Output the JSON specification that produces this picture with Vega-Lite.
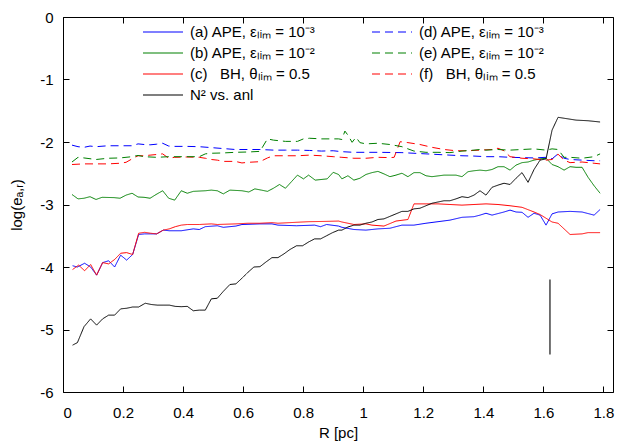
{
 "$schema": "https://vega.github.io/schema/vega-lite/v6.json",
 "width": 550, "height": 375,
 "autosize": "none",
 "padding": {"left": 63, "top": 17, "right": 4, "bottom": 51},
 "config": {
  "font": "Liberation Sans",
  "view": {"stroke": "#000", "strokeWidth": 1},
  "axis": {"labelFont": "Liberation Sans", "titleFont": "Liberation Sans", "labelFontSize": 15, "titleFontSize": 15, "titleFontWeight": "normal", "labelColor": "#000", "titleColor": "#000", "grid": false},
  "legend": {"labelFont": "Liberation Sans", "labelFontSize": 15, "labelColor": "#000"}
 },
 "resolve": {"axis": {"x": "independent", "y": "independent"}},
 "layer": [
  {
   "data": {"values": [
    {"s":"a","R":0.032,"v":-3.98},{"s":"a","R":0.048,"v":-4.0},{"s":"a","R":0.072,"v":-3.94},{"s":"a","R":0.092,"v":-4.0},{"s":"a","R":0.112,"v":-4.13},{"s":"a","R":0.132,"v":-3.93},{"s":"a","R":0.152,"v":-3.9},{"s":"a","R":0.172,"v":-4.0},{"s":"a","R":0.192,"v":-3.81},{"s":"a","R":0.212,"v":-3.89},{"s":"a","R":0.232,"v":-3.8},{"s":"a","R":0.252,"v":-3.48},{"s":"a","R":0.272,"v":-3.47},{"s":"a","R":0.292,"v":-3.47},{"s":"a","R":0.312,"v":-3.47},{"s":"a","R":0.334,"v":-3.41},{"s":"a","R":0.354,"v":-3.42},{"s":"a","R":0.394,"v":-3.42},{"s":"a","R":0.434,"v":-3.39},{"s":"a","R":0.454,"v":-3.4},{"s":"a","R":0.474,"v":-3.355},{"s":"a","R":0.514,"v":-3.34},{"s":"a","R":0.534,"v":-3.365},{"s":"a","R":0.576,"v":-3.345},{"s":"a","R":0.596,"v":-3.32},{"s":"a","R":0.656,"v":-3.31},{"s":"a","R":0.696,"v":-3.31},{"s":"a","R":0.716,"v":-3.33},{"s":"a","R":0.778,"v":-3.34},{"s":"a","R":0.838,"v":-3.33},{"s":"a","R":0.858,"v":-3.355},{"s":"a","R":0.878,"v":-3.32},{"s":"a","R":0.918,"v":-3.345},{"s":"a","R":0.929,"v":-3.365},{"s":"a","R":0.969,"v":-3.4},{"s":"a","R":1.009,"v":-3.41},{"s":"a","R":1.049,"v":-3.39},{"s":"a","R":1.089,"v":-3.38},{"s":"a","R":1.129,"v":-3.33},{"s":"a","R":1.169,"v":-3.33},{"s":"a","R":1.209,"v":-3.3},{"s":"a","R":1.249,"v":-3.275},{"s":"a","R":1.289,"v":-3.25},{"s":"a","R":1.329,"v":-3.205},{"s":"a","R":1.369,"v":-3.195},{"s":"a","R":1.389,"v":-3.17},{"s":"a","R":1.409,"v":-3.14},{"s":"a","R":1.429,"v":-3.17},{"s":"a","R":1.469,"v":-3.12},{"s":"a","R":1.489,"v":-3.09},{"s":"a","R":1.509,"v":-3.12},{"s":"a","R":1.529,"v":-3.125},{"s":"a","R":1.549,"v":-3.205},{"s":"a","R":1.569,"v":-3.14},{"s":"a","R":1.589,"v":-3.17},{"s":"a","R":1.609,"v":-3.33},{"s":"a","R":1.629,"v":-3.15},{"s":"a","R":1.649,"v":-3.12},{"s":"a","R":1.689,"v":-3.11},{"s":"a","R":1.729,"v":-3.12},{"s":"a","R":1.769,"v":-3.17},{"s":"a","R":1.789,"v":-3.08},

    {"s":"c","R":0.032,"v":-4.04},{"s":"c","R":0.052,"v":-3.97},{"s":"c","R":0.072,"v":-4.06},{"s":"c","R":0.092,"v":-3.96},{"s":"c","R":0.112,"v":-4.13},{"s":"c","R":0.132,"v":-3.93},{"s":"c","R":0.152,"v":-3.95},{"s":"c","R":0.172,"v":-3.88},{"s":"c","R":0.192,"v":-3.78},{"s":"c","R":0.212,"v":-3.77},{"s":"c","R":0.232,"v":-3.8},{"s":"c","R":0.252,"v":-3.46},{"s":"c","R":0.272,"v":-3.445},{"s":"c","R":0.292,"v":-3.46},{"s":"c","R":0.312,"v":-3.47},{"s":"c","R":0.334,"v":-3.41},{"s":"c","R":0.354,"v":-3.39},{"s":"c","R":0.374,"v":-3.355},{"s":"c","R":0.394,"v":-3.33},{"s":"c","R":0.414,"v":-3.32},{"s":"c","R":0.454,"v":-3.32},{"s":"c","R":0.494,"v":-3.31},{"s":"c","R":0.514,"v":-3.32},{"s":"c","R":0.576,"v":-3.31},{"s":"c","R":0.616,"v":-3.3},{"s":"c","R":0.656,"v":-3.3},{"s":"c","R":0.696,"v":-3.29},{"s":"c","R":0.716,"v":-3.3},{"s":"c","R":0.756,"v":-3.29},{"s":"c","R":0.818,"v":-3.275},{"s":"c","R":0.878,"v":-3.27},{"s":"c","R":0.918,"v":-3.265},{"s":"c","R":0.929,"v":-3.28},{"s":"c","R":0.969,"v":-3.32},{"s":"c","R":1.009,"v":-3.31},{"s":"c","R":1.029,"v":-3.33},{"s":"c","R":1.069,"v":-3.345},{"s":"c","R":1.109,"v":-3.265},{"s":"c","R":1.149,"v":-3.24},{"s":"c","R":1.169,"v":-2.99},{"s":"c","R":1.209,"v":-2.99},{"s":"c","R":1.249,"v":-2.99},{"s":"c","R":1.289,"v":-3.0},{"s":"c","R":1.329,"v":-3.01},{"s":"c","R":1.369,"v":-3.0},{"s":"c","R":1.409,"v":-2.99},{"s":"c","R":1.449,"v":-3.0},{"s":"c","R":1.489,"v":-3.02},{"s":"c","R":1.529,"v":-3.045},{"s":"c","R":1.569,"v":-3.12},{"s":"c","R":1.589,"v":-3.16},{"s":"c","R":1.609,"v":-3.22},{"s":"c","R":1.629,"v":-3.28},{"s":"c","R":1.649,"v":-3.3},{"s":"c","R":1.689,"v":-3.48},{"s":"c","R":1.729,"v":-3.47},{"s":"c","R":1.749,"v":-3.45},{"s":"c","R":1.789,"v":-3.45},

    {"s":"b","R":0.03,"v":-2.84},{"s":"b","R":0.05,"v":-2.91},{"s":"b","R":0.07,"v":-2.9},{"s":"b","R":0.09,"v":-2.875},{"s":"b","R":0.11,"v":-2.92},{"s":"b","R":0.13,"v":-2.885},{"s":"b","R":0.17,"v":-2.89},{"s":"b","R":0.19,"v":-2.9},{"s":"b","R":0.21,"v":-2.85},{"s":"b","R":0.23,"v":-2.82},{"s":"b","R":0.25,"v":-2.88},{"s":"b","R":0.27,"v":-2.885},{"s":"b","R":0.29,"v":-2.9},{"s":"b","R":0.31,"v":-2.84},{"s":"b","R":0.332,"v":-2.78},{"s":"b","R":0.352,"v":-2.9},{"s":"b","R":0.372,"v":-2.93},{"s":"b","R":0.394,"v":-2.78},{"s":"b","R":0.414,"v":-2.82},{"s":"b","R":0.434,"v":-2.79},{"s":"b","R":0.474,"v":-2.78},{"s":"b","R":0.494,"v":-2.77},{"s":"b","R":0.514,"v":-2.78},{"s":"b","R":0.534,"v":-2.83},{"s":"b","R":0.556,"v":-2.77},{"s":"b","R":0.596,"v":-2.78},{"s":"b","R":0.619,"v":-2.8},{"s":"b","R":0.639,"v":-2.75},{"s":"b","R":0.661,"v":-2.77},{"s":"b","R":0.681,"v":-2.79},{"s":"b","R":0.701,"v":-2.74},{"s":"b","R":0.721,"v":-2.68},{"s":"b","R":0.741,"v":-2.74},{"s":"b","R":0.761,"v":-2.635},{"s":"b","R":0.781,"v":-2.53},{"s":"b","R":0.801,"v":-2.59},{"s":"b","R":0.818,"v":-2.53},{"s":"b","R":0.84,"v":-2.61},{"s":"b","R":0.88,"v":-2.59},{"s":"b","R":0.9,"v":-2.485},{"s":"b","R":0.918,"v":-2.52},{"s":"b","R":0.929,"v":-2.59},{"s":"b","R":0.949,"v":-2.54},{"s":"b","R":0.969,"v":-2.61},{"s":"b","R":0.989,"v":-2.58},{"s":"b","R":1.009,"v":-2.52},{"s":"b","R":1.029,"v":-2.49},{"s":"b","R":1.049,"v":-2.47},{"s":"b","R":1.069,"v":-2.51},{"s":"b","R":1.089,"v":-2.555},{"s":"b","R":1.109,"v":-2.53},{"s":"b","R":1.129,"v":-2.5},{"s":"b","R":1.149,"v":-2.555},{"s":"b","R":1.169,"v":-2.49},{"s":"b","R":1.189,"v":-2.49},{"s":"b","R":1.209,"v":-2.54},{"s":"b","R":1.229,"v":-2.555},{"s":"b","R":1.269,"v":-2.53},{"s":"b","R":1.309,"v":-2.53},{"s":"b","R":1.329,"v":-2.555},{"s":"b","R":1.349,"v":-2.475},{"s":"b","R":1.369,"v":-2.46},{"s":"b","R":1.389,"v":-2.45},{"s":"b","R":1.409,"v":-2.46},{"s":"b","R":1.429,"v":-2.44},{"s":"b","R":1.449,"v":-2.395},{"s":"b","R":1.469,"v":-2.395},{"s":"b","R":1.489,"v":-2.45},{"s":"b","R":1.509,"v":-2.37},{"s":"b","R":1.529,"v":-2.33},{"s":"b","R":1.549,"v":-2.32},{"s":"b","R":1.569,"v":-2.29},{"s":"b","R":1.589,"v":-2.27},{"s":"b","R":1.609,"v":-2.26},{"s":"b","R":1.629,"v":-2.36},{"s":"b","R":1.649,"v":-2.395},{"s":"b","R":1.669,"v":-2.45},{"s":"b","R":1.689,"v":-2.395},{"s":"b","R":1.709,"v":-2.405},{"s":"b","R":1.729,"v":-2.405},{"s":"b","R":1.749,"v":-2.565},{"s":"b","R":1.769,"v":-2.7},{"s":"b","R":1.789,"v":-2.82},

    {"s":"d","R":0.03,"v":-2.05},{"s":"d","R":0.05,"v":-2.075},{"s":"d","R":0.07,"v":-2.085},{"s":"d","R":0.09,"v":-2.065},{"s":"d","R":0.11,"v":-2.075},{"s":"d","R":0.15,"v":-2.06},{"s":"d","R":0.19,"v":-2.06},{"s":"d","R":0.23,"v":-2.06},{"s":"d","R":0.25,"v":-2.03},{"s":"d","R":0.27,"v":-2.04},{"s":"d","R":0.29,"v":-2.045},{"s":"d","R":0.312,"v":-2.035},{"s":"d","R":0.332,"v":-2.02},{"s":"d","R":0.352,"v":-2.065},{"s":"d","R":0.372,"v":-2.07},{"s":"d","R":0.412,"v":-2.07},{"s":"d","R":0.454,"v":-2.075},{"s":"d","R":0.494,"v":-2.09},{"s":"d","R":0.534,"v":-2.105},{"s":"d","R":0.574,"v":-2.12},{"s":"d","R":0.616,"v":-2.12},{"s":"d","R":0.656,"v":-2.12},{"s":"d","R":0.701,"v":-2.13},{"s":"d","R":0.741,"v":-2.13},{"s":"d","R":0.781,"v":-2.13},{"s":"d","R":0.821,"v":-2.135},{"s":"d","R":0.861,"v":-2.145},{"s":"d","R":0.9,"v":-2.14},{"s":"d","R":0.929,"v":-2.155},{"s":"d","R":0.969,"v":-2.165},{"s":"d","R":1.049,"v":-2.165},{"s":"d","R":1.129,"v":-2.17},{"s":"d","R":1.169,"v":-2.18},{"s":"d","R":1.209,"v":-2.19},{"s":"d","R":1.249,"v":-2.2},{"s":"d","R":1.289,"v":-2.21},{"s":"d","R":1.329,"v":-2.22},{"s":"d","R":1.369,"v":-2.225},{"s":"d","R":1.409,"v":-2.235},{"s":"d","R":1.449,"v":-2.235},{"s":"d","R":1.489,"v":-2.245},{"s":"d","R":1.529,"v":-2.25},{"s":"d","R":1.569,"v":-2.255},{"s":"d","R":1.609,"v":-2.245},{"s":"d","R":1.629,"v":-2.27},{"s":"d","R":1.649,"v":-2.19},{"s":"d","R":1.669,"v":-2.26},{"s":"d","R":1.689,"v":-2.28},{"s":"d","R":1.729,"v":-2.29},{"s":"d","R":1.769,"v":-2.3},{"s":"d","R":1.789,"v":-2.3},

    {"s":"f","R":0.03,"v":-2.36},{"s":"f","R":0.07,"v":-2.35},{"s":"f","R":0.11,"v":-2.35},{"s":"f","R":0.15,"v":-2.35},{"s":"f","R":0.19,"v":-2.34},{"s":"f","R":0.21,"v":-2.325},{"s":"f","R":0.23,"v":-2.27},{"s":"f","R":0.25,"v":-2.22},{"s":"f","R":0.27,"v":-2.22},{"s":"f","R":0.29,"v":-2.21},{"s":"f","R":0.312,"v":-2.2},{"s":"f","R":0.332,"v":-2.19},{"s":"f","R":0.352,"v":-2.26},{"s":"f","R":0.372,"v":-2.245},{"s":"f","R":0.412,"v":-2.24},{"s":"f","R":0.454,"v":-2.245},{"s":"f","R":0.474,"v":-2.26},{"s":"f","R":0.494,"v":-2.28},{"s":"f","R":0.514,"v":-2.29},{"s":"f","R":0.534,"v":-2.31},{"s":"f","R":0.574,"v":-2.31},{"s":"f","R":0.596,"v":-2.335},{"s":"f","R":0.616,"v":-2.325},{"s":"f","R":0.656,"v":-2.315},{"s":"f","R":0.681,"v":-2.255},{"s":"f","R":0.701,"v":-2.22},{"s":"f","R":0.741,"v":-2.22},{"s":"f","R":0.781,"v":-2.22},{"s":"f","R":0.821,"v":-2.21},{"s":"f","R":0.861,"v":-2.22},{"s":"f","R":0.9,"v":-2.235},{"s":"f","R":0.929,"v":-2.245},{"s":"f","R":0.969,"v":-2.26},{"s":"f","R":1.009,"v":-2.26},{"s":"f","R":1.049,"v":-2.245},{"s":"f","R":1.089,"v":-2.25},{"s":"f","R":1.103,"v":-2.245},{"s":"f","R":1.123,"v":-1.995},{"s":"f","R":1.149,"v":-2.01},{"s":"f","R":1.189,"v":-2.04},{"s":"f","R":1.229,"v":-2.085},{"s":"f","R":1.269,"v":-2.12},{"s":"f","R":1.309,"v":-2.14},{"s":"f","R":1.349,"v":-2.14},{"s":"f","R":1.389,"v":-2.13},{"s":"f","R":1.429,"v":-2.12},{"s":"f","R":1.449,"v":-2.1},{"s":"f","R":1.469,"v":-2.14},{"s":"f","R":1.489,"v":-2.235},{"s":"f","R":1.529,"v":-2.26},{"s":"f","R":1.569,"v":-2.27},{"s":"f","R":1.609,"v":-2.29},{"s":"f","R":1.629,"v":-2.28},{"s":"f","R":1.649,"v":-2.195},{"s":"f","R":1.669,"v":-2.29},{"s":"f","R":1.689,"v":-2.33},{"s":"f","R":1.729,"v":-2.32},{"s":"f","R":1.769,"v":-2.34},{"s":"f","R":1.789,"v":-2.35},

    {"s":"e","R":0.03,"v":-2.32},{"s":"e","R":0.05,"v":-2.245},{"s":"e","R":0.07,"v":-2.255},{"s":"e","R":0.11,"v":-2.28},{"s":"e","R":0.15,"v":-2.26},{"s":"e","R":0.19,"v":-2.255},{"s":"e","R":0.23,"v":-2.235},{"s":"e","R":0.25,"v":-2.215},{"s":"e","R":0.27,"v":-2.235},{"s":"e","R":0.312,"v":-2.245},{"s":"e","R":0.352,"v":-2.235},{"s":"e","R":0.412,"v":-2.235},{"s":"e","R":0.454,"v":-2.235},{"s":"e","R":0.474,"v":-2.19},{"s":"e","R":0.494,"v":-2.18},{"s":"e","R":0.534,"v":-2.175},{"s":"e","R":0.574,"v":-2.165},{"s":"e","R":0.616,"v":-2.16},{"s":"e","R":0.656,"v":-2.15},{"s":"e","R":0.681,"v":-1.95},{"s":"e","R":0.701,"v":-1.97},{"s":"e","R":0.741,"v":-1.99},{"s":"e","R":0.781,"v":-1.99},{"s":"e","R":0.801,"v":-1.95},{"s":"e","R":0.821,"v":-1.94},{"s":"e","R":0.861,"v":-1.95},{"s":"e","R":0.9,"v":-1.95},{"s":"e","R":0.918,"v":-1.95},{"s":"e","R":0.929,"v":-1.96},{"s":"e","R":0.939,"v":-1.825},{"s":"e","R":0.949,"v":-1.89},{"s":"e","R":0.963,"v":-2.005},{"s":"e","R":0.976,"v":-1.925},{"s":"e","R":0.989,"v":-2.01},{"s":"e","R":1.009,"v":-2.03},{"s":"e","R":1.049,"v":-2.02},{"s":"e","R":1.089,"v":-2.04},{"s":"e","R":1.129,"v":-2.075},{"s":"e","R":1.169,"v":-2.145},{"s":"e","R":1.209,"v":-2.165},{"s":"e","R":1.249,"v":-2.165},{"s":"e","R":1.289,"v":-2.17},{"s":"e","R":1.329,"v":-2.145},{"s":"e","R":1.369,"v":-2.13},{"s":"e","R":1.389,"v":-2.12},{"s":"e","R":1.409,"v":-2.13},{"s":"e","R":1.449,"v":-2.12},{"s":"e","R":1.489,"v":-2.13},{"s":"e","R":1.529,"v":-2.12},{"s":"e","R":1.569,"v":-2.11},{"s":"e","R":1.609,"v":-2.13},{"s":"e","R":1.629,"v":-2.11},{"s":"e","R":1.649,"v":-2.12},{"s":"e","R":1.669,"v":-2.245},{"s":"e","R":1.689,"v":-2.245},{"s":"e","R":1.729,"v":-2.26},{"s":"e","R":1.769,"v":-2.235},{"s":"e","R":1.789,"v":-2.19},

    {"s":"N","R":0.032,"v":-5.25},{"s":"N","R":0.048,"v":-5.21},{"s":"N","R":0.07,"v":-4.955},{"s":"N","R":0.092,"v":-4.83},{"s":"N","R":0.112,"v":-4.93},{"s":"N","R":0.132,"v":-4.83},{"s":"N","R":0.152,"v":-4.77},{"s":"N","R":0.172,"v":-4.77},{"s":"N","R":0.192,"v":-4.67},{"s":"N","R":0.212,"v":-4.66},{"s":"N","R":0.232,"v":-4.64},{"s":"N","R":0.252,"v":-4.64},{"s":"N","R":0.274,"v":-4.58},{"s":"N","R":0.294,"v":-4.6},{"s":"N","R":0.314,"v":-4.61},{"s":"N","R":0.334,"v":-4.61},{"s":"N","R":0.354,"v":-4.61},{"s":"N","R":0.374,"v":-4.63},{"s":"N","R":0.394,"v":-4.635},{"s":"N","R":0.414,"v":-4.63},{"s":"N","R":0.434,"v":-4.7},{"s":"N","R":0.454,"v":-4.69},{"s":"N","R":0.474,"v":-4.69},{"s":"N","R":0.494,"v":-4.51},{"s":"N","R":0.514,"v":-4.5},{"s":"N","R":0.534,"v":-4.39},{"s":"N","R":0.556,"v":-4.28},{"s":"N","R":0.576,"v":-4.27},{"s":"N","R":0.596,"v":-4.18},{"s":"N","R":0.616,"v":-4.085},{"s":"N","R":0.636,"v":-4.0},{"s":"N","R":0.656,"v":-3.995},{"s":"N","R":0.676,"v":-3.92},{"s":"N","R":0.696,"v":-3.85},{"s":"N","R":0.716,"v":-3.85},{"s":"N","R":0.736,"v":-3.79},{"s":"N","R":0.756,"v":-3.72},{"s":"N","R":0.778,"v":-3.66},{"s":"N","R":0.798,"v":-3.66},{"s":"N","R":0.818,"v":-3.6},{"s":"N","R":0.838,"v":-3.55},{"s":"N","R":0.858,"v":-3.55},{"s":"N","R":0.878,"v":-3.5},{"s":"N","R":0.898,"v":-3.45},{"s":"N","R":0.918,"v":-3.41},{"s":"N","R":0.929,"v":-3.41},{"s":"N","R":0.949,"v":-3.36},{"s":"N","R":0.969,"v":-3.33},{"s":"N","R":0.989,"v":-3.33},{"s":"N","R":1.009,"v":-3.3},{"s":"N","R":1.029,"v":-3.28},{"s":"N","R":1.049,"v":-3.24},{"s":"N","R":1.069,"v":-3.23},{"s":"N","R":1.089,"v":-3.19},{"s":"N","R":1.109,"v":-3.15},{"s":"N","R":1.129,"v":-3.11},{"s":"N","R":1.149,"v":-3.11},{"s":"N","R":1.169,"v":-3.07},{"s":"N","R":1.189,"v":-3.06},{"s":"N","R":1.209,"v":-3.02},{"s":"N","R":1.229,"v":-2.98},{"s":"N","R":1.249,"v":-2.96},{"s":"N","R":1.269,"v":-2.94},{"s":"N","R":1.289,"v":-2.94},{"s":"N","R":1.309,"v":-2.91},{"s":"N","R":1.329,"v":-2.875},{"s":"N","R":1.349,"v":-2.89},{"s":"N","R":1.369,"v":-2.85},{"s":"N","R":1.389,"v":-2.78},{"s":"N","R":1.409,"v":-2.85},{"s":"N","R":1.429,"v":-2.725},{"s":"N","R":1.449,"v":-2.69},{"s":"N","R":1.469,"v":-2.66},{"s":"N","R":1.489,"v":-2.68},{"s":"N","R":1.509,"v":-2.58},{"s":"N","R":1.529,"v":-2.49},{"s":"N","R":1.549,"v":-2.645},{"s":"N","R":1.569,"v":-2.44},{"s":"N","R":1.589,"v":-2.29},{"s":"N","R":1.609,"v":-2.27},{"s":"N","R":1.629,"v":-1.81},{"s":"N","R":1.649,"v":-1.605},{"s":"N","R":1.669,"v":-1.62},{"s":"N","R":1.709,"v":-1.65},{"s":"N","R":1.749,"v":-1.66},{"s":"N","R":1.789,"v":-1.68}
   ]},
   "mark": {"type": "line", "strokeWidth": 1, "clip": true},
   "encoding": {
    "x": {"field": "R", "type": "quantitative", "scale": {"domain": [0, 1.832], "nice": false, "zero": false},
          "axis": {"title": "R [pc]", "domain": false, "ticks": true, "tickColor": "black", "tickWidth": 1, "tickSize": 6, "offset": -6, "values": [0, 0.2, 0.4, 0.6, 0.8, 1, 1.2, 1.4, 1.6, 1.8], "labelExpr": "toString(datum.value)", "labelPadding": 13, "titlePadding": 5}},
    "y": {"field": "v", "type": "quantitative", "scale": {"domain": [-6, 0], "nice": false, "zero": false},
          "axis": {"title": "log(eₐ,ᵣ)", "domain": false, "ticks": true, "tickColor": "black", "tickWidth": 1, "tickSize": 6, "offset": -6, "values": [-6, -5, -4, -3, -2, -1, 0], "labelExpr": "toString(datum.value)", "labelPadding": 10, "titlePadding": 15}},
    "color": {"field": "s", "type": "nominal",
              "scale": {"domain": ["a", "b", "c", "N", "d", "e", "f"], "range": ["#0000ff", "#008000", "#ff0000", "#000000", "#0000ff", "#008000", "#ff0000"]},
              "legend": {"title": null, "orient": "none", "legendX": 79, "legendY": 7, "columns": 2, "columnPadding": 55, "rowPadding": 5, "clipHeight": 16, "symbolType": "stroke", "symbolSize": 1600, "symbolStrokeWidth": 1.2, "labelLimit": 300, "labelOffset": 6,
                         "labelExpr": "datum.value=='a'?'(a) APE, εₗᵢₘ = 10⁻³':datum.value=='b'?'(b) APE, εₗᵢₘ = 10⁻²':datum.value=='c'?'(c)\u00a0\u00a0\u00a0BH, θₗᵢₘ = 0.5':datum.value=='d'?'(d) APE, εₗᵢₘ = 10⁻³':datum.value=='e'?'(e) APE, εₗᵢₘ = 10⁻²':datum.value=='f'?'(f)\u00a0\u00a0\u00a0BH, θₗᵢₘ = 0.5':'N² vs. anl'"}},
    "strokeDash": {"field": "s", "type": "nominal",
              "scale": {"domain": ["a", "b", "c", "N", "d", "e", "f"], "range": [[1, 0], [1, 0], [1, 0], [1, 0], [8, 5], [8, 5], [8, 5]]},
              "legend": {"title": null, "orient": "none", "legendX": 79, "legendY": 7, "columns": 2, "columnPadding": 55, "rowPadding": 5, "clipHeight": 16, "symbolType": "stroke", "symbolSize": 1600, "symbolStrokeWidth": 1.2, "labelLimit": 300, "labelOffset": 6,
                         "labelExpr": "datum.value=='a'?'(a) APE, εₗᵢₘ = 10⁻³':datum.value=='b'?'(b) APE, εₗᵢₘ = 10⁻²':datum.value=='c'?'(c)\u00a0\u00a0\u00a0BH, θₗᵢₘ = 0.5':datum.value=='d'?'(d) APE, εₗᵢₘ = 10⁻³':datum.value=='e'?'(e) APE, εₗᵢₘ = 10⁻²':datum.value=='f'?'(f)\u00a0\u00a0\u00a0BH, θₗᵢₘ = 0.5':'N² vs. anl'"}}
   }
  },
  {
   "data": {"values": [{"R": 1.622, "v": -4.2, "v2": -5.4}]},
   "mark": {"type": "rule", "color": "#444444", "strokeWidth": 1.5},
   "encoding": {
    "x": {"field": "R", "type": "quantitative", "axis": {"orient": "top", "labels": false, "title": null, "domain": false, "ticks": true, "tickColor": "black", "tickWidth": 1, "tickSize": 6, "offset": -6, "tickCount": 10}},
    "y": {"field": "v", "type": "quantitative", "axis": {"orient": "right", "labels": false, "title": null, "domain": false, "ticks": true, "tickColor": "black", "tickWidth": 1, "tickSize": 6, "offset": -6, "values": [-6, -5, -4, -3, -2, -1, 0]}},
    "y2": {"field": "v2"}
   }
  }
 ]
}
